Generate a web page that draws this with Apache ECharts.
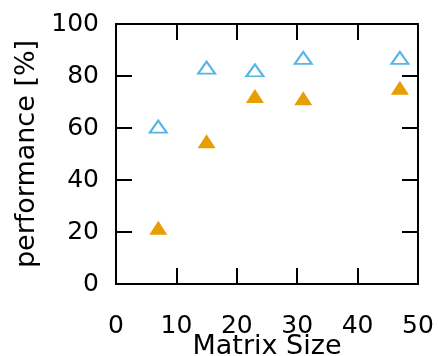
<!DOCTYPE html>
<html><head><meta charset="utf-8">
<script src="https://cdn.jsdelivr.net/npm/echarts@6/dist/echarts.min.js"></script>
<style>html,body{margin:0;padding:0;background:#fff}#c{width:438px;height:356px}</style>
</head><body><div id="c"></div>
<script>
const matrixSizes = [7, 15, 23, 31, 47];
const seriesA = [60.5, 83.2, 82.2, 87, 87];     // hollow blue
const seriesB = [21.6, 54.9, 72.3, 71.4, 75.5]; // filled orange
const xTicks = [0, 10, 20, 30, 40, 50];
const yTicks = [0, 20, 40, 60, 80, 100];

const font = 'DejaVu Sans';
const axisLine = {show: true, onZero: false, lineStyle: {color: '#000', width: 2}};
const tick = {show: true, inside: true, length: 16, lineStyle: {color: '#000', width: 2}};
const chart = echarts.init(document.getElementById('c'), null, {renderer: 'canvas'});
chart.setOption({
  animation: false,
  backgroundColor: '#fff',
  grid: {left: 116, right: 20, top: 24, bottom: 72, containLabel: false, outerBoundsMode: 'none'},
  xAxis: [{
    type: 'value', position: 'bottom', min: xTicks[0], max: xTicks[xTicks.length-1], interval: 10,
    name: 'Matrix Size', nameLocation: 'middle', nameGap: 49, nameMoveOverlap: false,
    nameTextStyle: {fontFamily: font, fontSize: 27, color: '#000'},
    axisLine: axisLine, axisTick: tick, splitLine: {show: false},
    axisLabel: {fontFamily: font, fontSize: 25, color: '#000', margin: 30}
  }, {
    type: 'value', position: 'top', min: 0, max: 50, interval: 10,
    axisLine: axisLine, axisTick: tick, splitLine: {show: false}, axisLabel: {show: false}
  }],
  yAxis: [{
    type: 'value', position: 'left', min: yTicks[0], max: yTicks[yTicks.length-1], interval: 20,
    name: 'performance [%]', nameLocation: 'middle', nameGap: 76, nameMoveOverlap: false,
    nameTextStyle: {fontFamily: font, fontSize: 27, color: '#000'},
    axisLine: axisLine, axisTick: tick, splitLine: {show: false},
    axisLabel: {fontFamily: font, fontSize: 25, color: '#000', margin: 17}
  }, {
    type: 'value', position: 'right', min: 0, max: 100, interval: 20,
    axisLine: axisLine, axisTick: tick, splitLine: {show: false}, axisLabel: {show: false}
  }],
  series: [{
    type: 'scatter', xAxisIndex: 0, yAxisIndex: 0,
    data: matrixSizes.map((x, i) => [x, seriesA[i]]),
    symbol: 'triangle', symbolSize: [17, 12],
    itemStyle: {color: '#fff', borderColor: '#56B4E9', borderWidth: 2, opacity: 1}
  }, {
    type: 'scatter', xAxisIndex: 0, yAxisIndex: 0,
    data: matrixSizes.map((x, i) => [x, seriesB[i]]),
    symbol: 'triangle', symbolSize: [18, 14],
    itemStyle: {color: '#E69F00', opacity: 1}
  }]
});
</script></body></html>
